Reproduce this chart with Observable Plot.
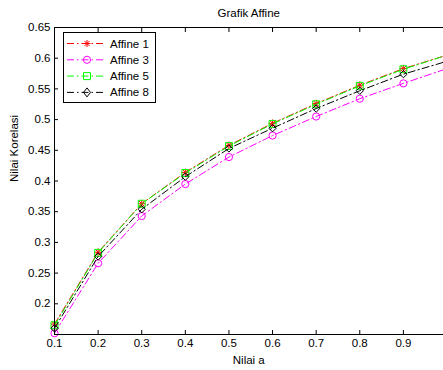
<!DOCTYPE html>
<html><head><meta charset="utf-8">
<script src="https://cdn.jsdelivr.net/npm/d3@7"></script>
<script src="https://cdn.jsdelivr.net/npm/@observablehq/plot@0.6"></script>
<style>
html,body{margin:0;padding:0;background:#fff;overflow:hidden;}
#chart{position:relative;width:443px;height:370px;}
</style></head><body><div id="chart"></div>
<script>
const nilaiA = [0.1, 0.2, 0.3, 0.4, 0.5, 0.6, 0.7, 0.8, 0.9, 1.0];
const seriesNames = ["Affine 1", "Affine 3", "Affine 5", "Affine 8"];
const affine1 = [0.167, 0.284, 0.363, 0.414, 0.458, 0.494, 0.526, 0.556, 0.583, 0.605];
const affine3 = [0.152, 0.266, 0.343, 0.395, 0.439, 0.474, 0.505, 0.534, 0.559, 0.583];
const affine5 = [0.165, 0.283, 0.363, 0.413, 0.457, 0.493, 0.525, 0.555, 0.582, 0.605];
const affine8 = [0.160, 0.277, 0.354, 0.407, 0.453, 0.486, 0.518, 0.547, 0.574, 0.595];
const xTicks = [0.1, 0.2, 0.3, 0.4, 0.5, 0.6, 0.7, 0.8, 0.9, 1.0];
const xTickLabels = ["0.1", "0.2", "0.3", "0.4", "0.5", "0.6", "0.7", "0.8", "0.9", ""];
const yTicks = [0.2, 0.25, 0.3, 0.35, 0.4, 0.45, 0.5, 0.55, 0.6, 0.65];
const yTickLabels = ["0.2", "0.25", "0.3", "0.35", "0.4", "0.45", "0.5", "0.55", "0.6", "0.65"];
const titleText = "Grafik Affine";
const xLabel = "Nilai a";
const yLabel = "Nilai Korelasi";

const colors = ["#ff0000", "#ff00ff", "#00ff00", "#000000"];
const symbols = [null, "circle", "square", "diamond2"];
const radii = [2.6, 3.6, 3.9, 3.3];
const valuesBySeries = [affine1, affine3, affine5, affine8];
const rows = seriesNames.map((name, i) => nilaiA.map((a, j) => ({series: name, a, v: valuesBySeries[i][j]})));

const xFmt = d => xTickLabels[xTicks.findIndex(t => Math.abs(t - d) < 1e-9)] ?? "";
const yFmt = d => yTickLabels[yTicks.findIndex(t => Math.abs(t - d) < 1e-9)] ?? "";
const dash = "7,3,1.5,3";
const FONT = "'Liberation Sans', Arial, sans-serif";

const marks = [];
rows.forEach((data, i) => {
  marks.push(Plot.line(data, {x: "a", y: "v", stroke: colors[i], strokeWidth: 1, strokeDasharray: dash}));
  if (i === 0) {
    marks.push(Plot.dot(data, {x: "a", y: "v", symbol: "plus", r: radii[i], stroke: colors[i], strokeWidth: 1}));
    marks.push(Plot.dot(data, {x: "a", y: "v", symbol: "times", r: radii[i], stroke: colors[i], strokeWidth: 1}));
  } else {
    marks.push(Plot.dot(data, {x: "a", y: "v", symbol: symbols[i], r: radii[i], stroke: colors[i], fill: "none", strokeWidth: 1}));
  }
});

const chart = Plot.plot({
  width: 443,
  height: 370,
  marginLeft: 54,
  marginTop: 27,
  marginBottom: 36,
  marginRight: -3.5,
  style: {fontFamily: FONT, fontSize: "11.5px", background: "#fff", color: "#000", overflow: "hidden"},
  x: {domain: [0.1, 1.0], label: null},
  y: {domain: [0.15, 0.65], label: null},
  marks: [
    ...marks,
    Plot.frame({stroke: "#000", strokeWidth: 1}),
    Plot.axisX({ticks: xTicks, anchor: "bottom", tickSize: 0, tickPadding: 4, tickFormat: xFmt, label: null}),
    Plot.axisX({ticks: xTicks, anchor: "bottom", tickSize: 4, dy: -4, tickFormat: () => "", label: null}),
    Plot.axisX({ticks: xTicks, anchor: "top", tickSize: 4, dy: 4, tickFormat: () => "", label: null}),
    Plot.axisY({ticks: yTicks, anchor: "left", tickSize: 0, tickPadding: 4, tickFormat: yFmt, label: null}),
    Plot.axisY({ticks: yTicks, anchor: "left", tickSize: 4, dx: 4, tickFormat: () => "", label: null}),
    Plot.axisY({ticks: yTicks, anchor: "right", tickSize: 4, dx: -4, tickFormat: () => "", label: null}),
    Plot.text([titleText], {frameAnchor: "top", dy: -14, dx: -2, text: d => d, fontSize: 11.5, lineAnchor: "middle"}),
    Plot.text([xLabel], {frameAnchor: "bottom", dy: 26, dx: -2, text: d => d, fontSize: 11.5, lineAnchor: "middle"}),
    Plot.text([yLabel], {frameAnchor: "left", dx: -40, dy: 1, rotate: -90, text: d => d, fontSize: 11.5, lineAnchor: "middle"})
  ]
});
document.getElementById("chart").appendChild(chart);

// Legend box (MATLAB style) drawn inside the plot's SVG
const svg = d3.select(chart);
const lg = svg.append("g").attr("font-family", FONT).attr("font-size", "11.5px").attr("text-anchor", "start");
lg.append("rect").attr("x", 63.5).attr("y", 32.5).attr("width", 92).attr("height", 70)
  .attr("fill", "#fff").attr("stroke", "#000").attr("stroke-width", 1);
const legendPaths = [
  "M-3.5,0L3.5,0M0,-3.5L0,3.5M-2.5,-2.5L2.5,2.5M-2.5,2.5L2.5,-2.5",
  d3.symbol(d3.symbolCircle, Math.PI * 3.6 * 3.6)(),
  d3.symbol(d3.symbolSquare, Math.pow(7, 2))(),
  "M0,-4.5L3.5,0L0,4.5L-3.5,0Z"
];
seriesNames.forEach((name, i) => {
  const y = 43.5 + i * 16.3;
  lg.append("line").attr("x1", 67).attr("x2", 105).attr("y1", y).attr("y2", y)
    .attr("stroke", colors[i]).attr("stroke-dasharray", dash).attr("stroke-width", 1);
  lg.append("path").attr("d", legendPaths[i]).attr("transform", `translate(87,${y})`)
    .attr("fill", "none").attr("stroke", colors[i]).attr("stroke-width", 1);
  lg.append("text").attr("x", 110).attr("y", y).attr("dy", "0.35em").attr("fill", "#000").text(name);
});
</script></body></html>
